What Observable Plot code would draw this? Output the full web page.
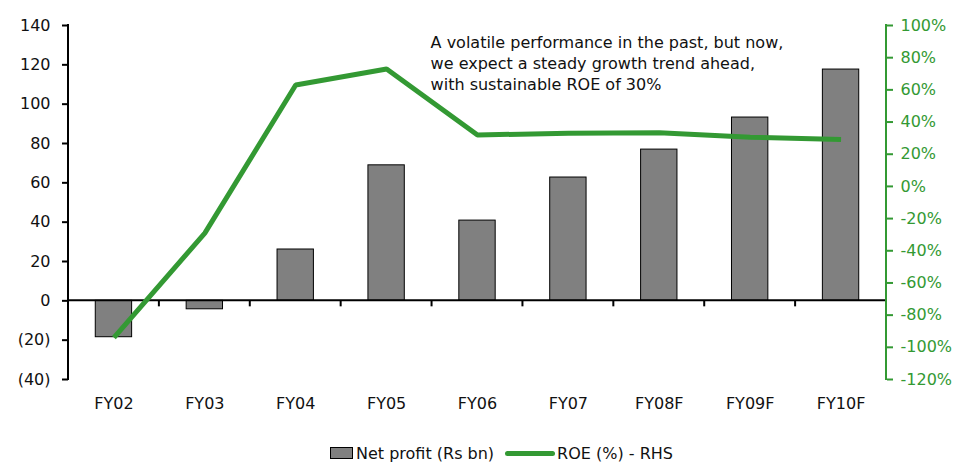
<!DOCTYPE html>
<html>
<head>
<meta charset="utf-8">
<script src="https://cdn.jsdelivr.net/npm/d3@7"></script>
<script src="https://cdn.jsdelivr.net/npm/@observablehq/plot@0.6"></script>
<style>
  html, body { margin: 0; padding: 0; background: #fff; }
  body { width: 955px; height: 464px; overflow: hidden; font-family: "DejaVu Sans", Verdana, sans-serif; }
  #chart svg { display: block; }
  .legend { display: flex; align-items: center; margin-left: 330px; padding-top: 13px; font-size: 16px; color: #111; height: 20px; }
  .legend .box { width: 21px; height: 10px; background: #808080; border: 1px solid #000; margin-right: 3px; }
  .legend .ln { width: 50px; height: 5px; background: #339933; border-radius: 3px; margin-left: 11px; margin-right: 2px; }
</style>
</head>
<body>
<div id="chart"></div>
<div class="legend"><span class="box"></span><span>Net profit (Rs bn)</span><span class="ln"></span><span>ROE (%) - RHS</span></div>
<script>
// Fiscal years and the two series
const years = ["FY02", "FY03", "FY04", "FY05", "FY06", "FY07", "FY08F", "FY09F", "FY10F"];
const netProfit = [-18.5, -4.3, 26.1, 68.9, 40.8, 62.7, 76.9, 93.2, 117.6]; // Rs bn
const roe = [-94, -29, 63, 73, 32, 33, 33.4, 30.6, 29.2]; // %

// Axis ticks
const leftTicks = [-40, -20, 0, 20, 40, 60, 80, 100, 120, 140];
const rightTicks = [-120, -100, -80, -60, -40, -20, 0, 20, 40, 60, 80, 100];

const note = "A volatile performance in the past, but now,\nwe expect a steady growth trend ahead,\nwith sustainable ROE of 30%";

const green = "#339933";
const leftDomain = [-40, 140];
const rightDomain = [-120, 100];

// Map ROE (right axis units) onto the left axis scale and back
const toLeft = v => leftDomain[0] + (v - rightDomain[0]) * (leftDomain[1] - leftDomain[0]) / (rightDomain[1] - rightDomain[0]);
const fromLeft = v => rightDomain[0] + (v - leftDomain[0]) * (rightDomain[1] - rightDomain[0]) / (leftDomain[1] - leftDomain[0]);

const bars = years.map((year, i) => ({year, value: netProfit[i]}));
const roeLine = years.map((year, i) => ({year, value: toLeft(roe[i])}));

// Axis lines and category-boundary ticks on the zero line
function axisFrame(index, scales, values, dims) {
  const {x, y} = scales;
  const left = dims.marginLeft, right = dims.width - dims.marginRight;
  const g = d3.create("svg:g");
  const step = x(years[1]) - x(years[0]);
  const y0 = y(0);
  for (let i = 1; i < years.length; i++) {
    const bx = x(years[i]) - step * 0.3;
    g.append("line").attr("x1", bx).attr("x2", bx).attr("y1", y0).attr("y2", y0 + 6)
      .attr("stroke", "#000").attr("stroke-width", 2);
  }
  g.append("line").attr("x1", left).attr("x2", right).attr("y1", y0).attr("y2", y0)
    .attr("stroke", "#000").attr("stroke-width", 2);
  g.append("line").attr("x1", left).attr("x2", left).attr("y1", y(leftDomain[0]) + 1).attr("y2", y(leftDomain[1]) - 1)
    .attr("stroke", "#000").attr("stroke-width", 2);
  g.append("line").attr("x1", right).attr("x2", right).attr("y1", y(leftDomain[0]) + 1).attr("y2", y(leftDomain[1]) - 1)
    .attr("stroke", green).attr("stroke-width", 2);
  return g.node();
}

const chart = Plot.plot({
  width: 955,
  height: 430,
  marginTop: 25,
  marginBottom: 51,
  marginLeft: 68,
  marginRight: 69,
  style: {fontFamily: "DejaVu Sans, Verdana, sans-serif", fontSize: "16px", color: "#111", background: "#fff"},
  x: {domain: years, paddingInner: 0.6, paddingOuter: 0.3, round: false, axis: null},
  y: {domain: leftDomain, axis: null},
  marks: [
    Plot.barY(bars, {x: "year", y1: 0, y2: "value", fill: "#808080", stroke: "#000", strokeWidth: 1}),
    axisFrame,
    Plot.axisX({tickSize: 0, tickPadding: 18, fontSize: 16, label: null}),
    Plot.axisY(leftTicks, {anchor: "left", tickSize: 6, tickPadding: 12, strokeWidth: 2, stroke: "#000", label: null,
      tickFormat: d => d < 0 ? `(${-d})` : `${d}`, fontSize: 16}),
    Plot.axisY(rightTicks.map(toLeft), {anchor: "right", tickSize: 6, tickPadding: 8, strokeWidth: 2, stroke: green, label: null,
      fill: green, tickFormat: d => `${Math.round(fromLeft(d))}%`, fontSize: 16}),
    Plot.line(roeLine, {x: "year", y: "value", stroke: green, strokeWidth: 5, strokeLinejoin: "miter", strokeLinecap: "butt"}),
    Plot.text([note], {x: () => "FY05", y: () => leftDomain[1], text: d => d, textAnchor: "start", lineAnchor: "top",
      lineHeight: 1.32, dx: 44, dy: 7, fontSize: 16, fill: "#111"})
  ]
});
document.getElementById("chart").appendChild(chart);
</script>
</body>
</html>
